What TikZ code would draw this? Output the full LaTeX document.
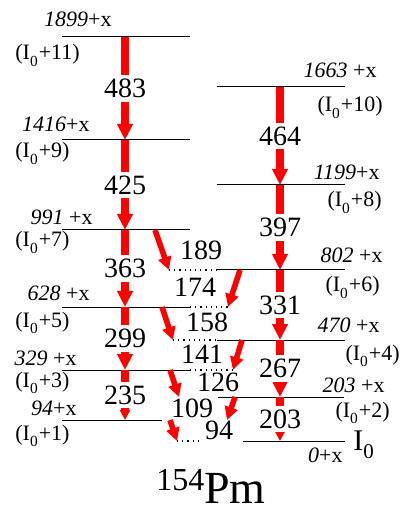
\documentclass[tikz,border=0pt]{standalone}
\usepackage{fontspec}
\setmainfont{Liberation Serif}
\usepackage{tikz}
\usetikzlibrary{arrows.meta}

\newcommand{\Izero}{I\raisebox{-0.15em}{\textsubscript{0}}}

\begin{document}
\begin{tikzpicture}[x=0.5pt,y=-0.5pt,
  lvline/.style={draw=black,line width=0.5pt},
  lvdot/.style={draw=black,line width=0.6pt,dotted},
  gline/.style={draw=red,line width=3.6pt,-{Triangle[width=7.5pt,length=8pt]}},
  gweak/.style={gline,-{Triangle[width=5pt,length=5pt]}},
  gcross/.style={draw=red,line width=2.8pt,-{Triangle[width=6.5pt,length=6.5pt]}},
  elab/.style={font=\fontsize{14}{14}\selectfont,fill=white,inner sep=2pt},
  clab/.style={font=\fontsize{14}{14}\selectfont,inner sep=0pt},
  enlab/.style={font=\fontsize{11}{12}\selectfont,inner sep=0pt,anchor=base east},
  spinl/.style={font=\fontsize{11}{12}\selectfont,inner sep=0pt,anchor=base west},
  spinr/.style={spinl,anchor=base east}
]
  \useasboundingbox (0,0) rectangle (403,512);

  % levels, left band
  \draw[lvline] (62,37) -- (190,37);
  \draw[lvline] (62,140) -- (190,140);
  \draw[lvline] (62,230) -- (190,230);
  \draw[lvline] (62,307) -- (190,307);
  \draw[lvdot] (190,307) -- (228,307);
  \draw[lvline] (62,370) -- (190,370);
  \draw[lvdot] (190,370) -- (233,370);
  \draw[lvline] (62,420) -- (162,420);

  % levels, right band
  \draw[lvline] (217,87) -- (345,87);
  \draw[lvline] (217,185) -- (345,185);
  \draw[lvdot] (169,270) -- (217,270);
  \draw[lvline] (217,270) -- (345,270);
  \draw[lvdot] (173,340) -- (217,340);
  \draw[lvline] (217,340) -- (345,340);
  \draw[lvline] (218,397) -- (344,397);
  \draw[lvdot] (177,441) -- (200,441);
  \draw[lvline] (243,441) -- (345,441);

  % level energies and spins
  \node[enlab] (n1899) at (112,27) {\textit{1899}+x};
  \node[enlab] (n1416) at (90,132) {\textit{1416}+x};
  \node[enlab] (n991) at (93,225) {\textit{991} +x};
  \node[enlab] (n628) at (90,300) {\textit{628} +x};
  \node[enlab] (n329) at (77,365) {\textit{329} +x};
  \node[enlab] (n94) at (77,415) {\textit{94}+x};
  \node[enlab] (n1663) at (377,78) {\textit{1663} +x};
  \node[enlab] (n1199) at (380,180) {\textit{1199}+x};
  \node[enlab] (n802) at (383,263) {\textit{802} +x};
  \node[enlab] (n470) at (380,332) {\textit{470} +x};
  \node[enlab] (n203) at (385,392) {\textit{203} +x};
  \node[enlab] (n0) at (343,462) {\textit{0}+x};

  \node[spinl] (s11) at (15,60) {(\Izero+11)};
  \node[spinl] (s9) at (15,158) {(\Izero+9)};
  \node[spinl] (s7) at (15,247) {(\Izero+7)};
  \node[spinl] (s5) at (15,327) {(\Izero+5)};
  \node[spinl] (s3) at (15,387) {(\Izero+3)};
  \node[spinl] (s1) at (15,440) {(\Izero+1)};
  \node[spinr] (s10) at (383,112) {(\Izero+10)};
  \node[spinr] (s8) at (382,207) {(\Izero+8)};
  \node[spinr] (s6) at (380,292) {(\Izero+6)};
  \node[spinr] (s4) at (400,360) {(\Izero+4)};
  \node[spinr] (s2) at (390,417) {(\Izero+2)};
  \node[spinl,font=\fontsize{15}{16}\selectfont] (s0) at (353,450) {\Izero};

  % in-band transitions
  \coordinate (l11) at (125,37);
  \coordinate (l9) at (125,140);
  \coordinate (l7) at (125,230);
  \coordinate (l5) at (125,307);
  \coordinate (l3) at (125,370);
  \coordinate (l1) at (125,420);
  \coordinate (r10) at (280,87);
  \coordinate (r8) at (280,185);
  \coordinate (r6) at (280,270);
  \coordinate (r4) at (280,340);
  \coordinate (r2) at (280,397);
  \coordinate (r0) at (280,441);

  \draw[gline] (l11) -- node[elab] (e483) {483} (l9);
  \draw[gline] (l9) -- node[elab] (e425) {425} (l7);
  \draw[gline] (l7) -- node[elab] (e363) {363} (l5);
  \draw[gline] (l5) -- node[elab] (e299) {299} (l3);
  \draw[gweak] (l3) -- node[elab] (e235) {235} (l1);
  \draw[gline] (r10) -- node[elab] (e464) {464} (r8);
  \draw[gline] (r8) -- node[elab] (e397) {397} (r6);
  \draw[gline] (r6) -- node[elab] (e331) {331} (r4);
  \draw[gline] (r4) -- node[elab] (e267) {267} (r2);
  \draw[gweak] (r2) -- node[elab] (e203) {203} (r0);

  % linking transitions
  \coordinate (a189) at (155,230);  \coordinate (b189) at (169,270);
  \coordinate (a174) at (240,270);  \coordinate (b174) at (228,307);
  \coordinate (a158) at (162,307);  \coordinate (b158) at (173,340);
  \coordinate (a141) at (242,340);  \coordinate (b141) at (233,370);
  \coordinate (a126) at (170,370);  \coordinate (b126) at (179,397);
  \coordinate (a109) at (235,397);  \coordinate (b109) at (227,420);
  \coordinate (a94) at (170,420);   \coordinate (b94) at (177,441);

  \draw[gcross] (a189) -- (b189);
  \draw[gcross] (a174) -- (b174);
  \draw[gcross] (a158) -- (b158);
  \draw[gcross] (a141) -- (b141);
  \draw[gcross] (a126) -- (b126);
  \draw[gcross] (a109) -- (b109);
  \draw[gcross] (a94) -- (b94);

  \node[clab] (e189) at (201,250) {189};
  \node[clab] (e174) at (195,287) {174};
  \node[clab] (e158) at (207,322) {158};
  \node[clab] (e141) at (202,354) {141};
  \node[clab] (e126) at (218,382) {126};
  \node[clab] (e109) at (192,408) {109};
  \node[clab] (e94) at (219,430) {94};

  \node[anchor=base west,inner sep=0pt,font=\fontsize{23}{25}\selectfont] (nuc) at (156,503)
    {\raisebox{6.5pt}{\fontsize{16}{17}\selectfont 154}Pm};
\end{tikzpicture}
\end{document}
